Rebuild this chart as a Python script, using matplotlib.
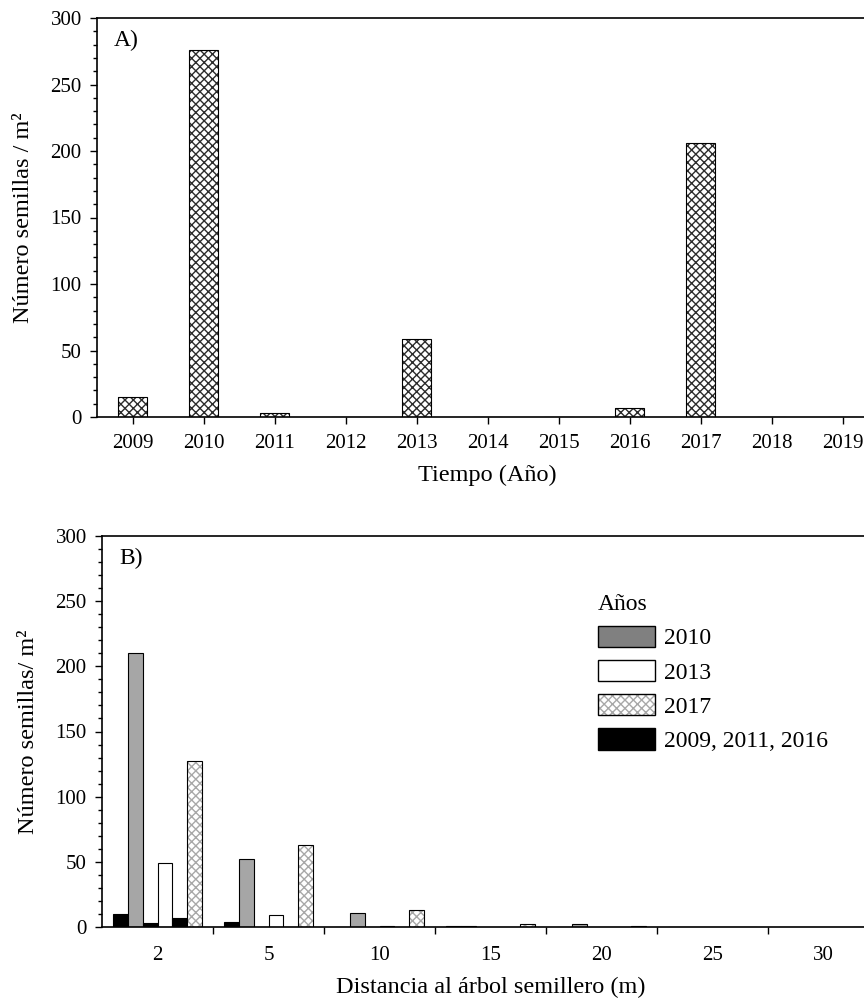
import matplotlib
matplotlib.use("Agg")
import matplotlib.pyplot as plt
import numpy as np
from matplotlib.patches import Patch
from matplotlib.legend_handler import HandlerTuple

plt.rcParams['font.family'] = ['Liberation Serif', 'DejaVu Serif']
plt.rcParams['font.size'] = 15
plt.rcParams['hatch.linewidth'] = 1.0

# A) seeds per year
years_a = ['2009', '2010', '2011', '2012', '2013', '2014', '2015', '2016', '2017', '2018', '2019']
seeds_a = [15, 276, 3, 0, 59, 0, 0, 7, 206, 0, 0]

# B) seeds by distance to seed tree, per year
distances = ['2', '5', '10', '15', '20', '25', '30']
s2009 = [10, 4, 0, 1, 0, 0, 0]
s2010 = [210, 52, 11, 1, 2, 0, 0]
s2011 = [3, 0, 0, 0, 0, 0, 0]
s2013 = [49, 9, 1, 0, 0, 0, 0]
s2016 = [7, 0, 0, 0, 0, 0, 0]
s2017 = [127, 63, 13, 2, 1, 0, 0]

fig = plt.figure(figsize=(8.64, 9.98), dpi=100)

def hatched_bar(ax, x, h, width, hcolor):
    # hatch layer then black outline on top
    ax.bar(x, h, width=width, color='white', edgecolor=hcolor, hatch='xxxx', linewidth=0)
    ax.bar(x, h, width=width, color='none', edgecolor='black', linewidth=0.8)

def style_y(ax):
    ax.set_ylim(0, 300)
    ax.set_yticks(np.arange(0, 301, 50))
    ax.set_yticks(np.arange(0, 301, 10), minor=True)
    ax.tick_params(axis='y', which='major', direction='out', length=5, width=1, pad=6)
    ax.tick_params(axis='y', which='minor', direction='out', length=3, width=1)
    for s in ax.spines.values():
        s.set_linewidth(1.2)

# ---- panel A
ax1 = fig.add_axes([97/864, 1-417/998, 781/864, 399/998])
xa = np.arange(len(years_a))
hatched_bar(ax1, xa, seeds_a, 0.42, '#2c2c2c')
ax1.set_xlim(-0.5, len(years_a)-0.5)
ax1.set_xticks(xa)
ax1.set_xticklabels(years_a)
ax1.tick_params(axis='x', direction='out', length=5, width=1, pad=7)
style_y(ax1)
ax1.set_xlabel('Tiempo (Año)', fontsize=17.5, labelpad=9)
ax1.set_ylabel('Número semillas / m²', fontsize=17.5, labelpad=12)
ax1.text(0.022, 0.97, 'A)', transform=ax1.transAxes, ha='left', va='top', fontsize=17)

# ---- panel B
ax2 = fig.add_axes([102/864, 1-927/998, 777/864, 391/998])
xb = np.arange(len(distances))
w = 0.135
series = [s2009, s2010, s2011, s2013, s2016, s2017]
for i, vals in enumerate(series):
    pos = xb + (i - 2.5)*w
    if i == 5:
        hatched_bar(ax2, pos, vals, w, '#a8a8a8')
    elif i == 1:
        ax2.bar(pos, vals, width=w, color='#a6a6a6', edgecolor='black', linewidth=0.8)
    elif i == 3:
        ax2.bar(pos, vals, width=w, color='white', edgecolor='black', linewidth=0.8)
    else:
        ax2.bar(pos, vals, width=w, color='black', edgecolor='black', linewidth=0.8)

ax2.set_xlim(-0.5, len(distances)-0.5)
ax2.set_xticks(np.arange(0.5, len(distances)-0.5, 1))
ax2.set_xticklabels([])
ax2.set_xticks(xb, minor=True)
ax2.set_xticklabels(distances, minor=True)
ax2.tick_params(axis='x', which='major', direction='out', length=5, width=1)
ax2.tick_params(axis='x', which='minor', length=0, pad=14)
style_y(ax2)
ax2.set_xlabel('Distancia al árbol semillero (m)', fontsize=17.5, labelpad=8)
ax2.set_ylabel('Número semillas/ m²', fontsize=17.5, labelpad=12)
ax2.text(0.022, 0.97, 'B)', transform=ax2.transAxes, ha='left', va='top', fontsize=17)

h2010 = Patch(facecolor='#808080', edgecolor='black', linewidth=1)
h2013 = Patch(facecolor='white', edgecolor='black', linewidth=1)
h2017 = (Patch(facecolor='white', edgecolor='#a8a8a8', hatch='xxxx', linewidth=0),
         Patch(facecolor='none', edgecolor='black', linewidth=1))
hblk = Patch(facecolor='black', edgecolor='black', linewidth=1)
leg = fig.legend([h2010, h2013, h2017, hblk], ['2010', '2013', '2017', '2009, 2011, 2016'],
                 title='Años', loc='upper left', bbox_to_anchor=(598/864, 1-594/998),
                 frameon=False, borderpad=0, borderaxespad=0, fontsize=17,
                 handlelength=2.4, handleheight=1.0, labelspacing=0.45,
                 handletextpad=0.38, alignment='left', title_fontsize=17,
                 handler_map={tuple: HandlerTuple(ndivide=1, pad=0)})

fig.savefig('out.png', dpi=100)
